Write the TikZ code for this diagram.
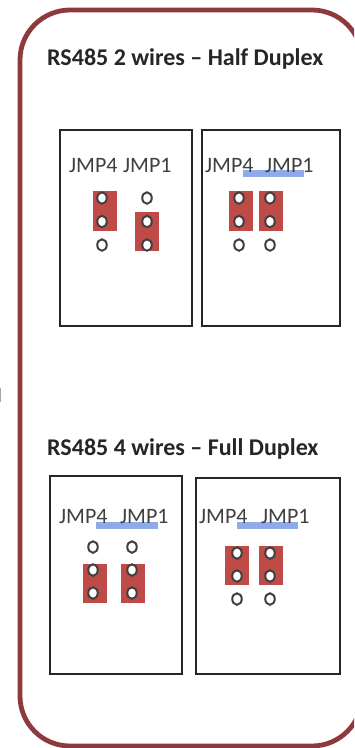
\documentclass[tikz,border=0pt]{standalone}
\usepackage{fontspec}
\setmainfont{Carlito}
\usetikzlibrary{shapes.geometric}
\definecolor{rim}{HTML}{8E3A3C}
\definecolor{jred}{HTML}{BE4B48}
\definecolor{jblue}{HTML}{8FAAEA}
\tikzset{
  x=1pt,y=-1pt,
  frame/.style={draw=black!85,line width=1.5pt,fill=white},
  outer/.style={draw=rim,line width=4.8pt,rounded corners=50pt},
  jumper/.style={fill=jred,draw=none},
  hole/.style={draw=black!75,fill=white,line width=2pt,ellipse,minimum width=9.5pt,minimum height=11.5pt,inner sep=0pt},
  lab/.style={font=\fontsize{22}{24}\selectfont,text=black!75,anchor=base west,inner sep=0pt},
  ttl/.style={font=\bfseries\fontsize{24}{26}\selectfont,text=black!85,anchor=base west,inner sep=0pt},
  bar/.style={fill=jblue,draw=none}
}
\newcommand{\holes}[4]{%
  \node[hole] (#1a) at (#2,#3) {};
  \node[hole] (#1b) at (#2,#3+#4) {};
  \node[hole] (#1c) at (#2,#3+2*#4) {};
}
\begin{document}
\begin{tikzpicture}
\useasboundingbox (0,0) rectangle (354,748);
\fill[white] (0,0) rectangle (354,748);
\clip (0,0) rectangle (354,748);
\draw[outer] (20,10) rectangle (362,746);
\draw[black!35,line width=2pt] (0,388) -- (0,402);

\node[ttl] (t1) at (47,65) {RS485 2 wires – Half Duplex};
\node[ttl] (t2) at (47,455) {RS485 4 wires – Full Duplex};

\draw[frame] (60,130) rectangle (192,326);
\draw[frame] (202,130) rectangle (340,326);
\draw[frame] (50,476) rectangle (182,674);
\draw[frame] (196,478) rectangle (340,674);

\fill[bar] (243,170) rectangle (304,177);
\fill[bar] (96,522) rectangle (158,529);
\fill[bar] (237,522) rectangle (298,529);

\node[lab] (a1) at (69,172) {JMP4};
\node[lab] (a2) at (123,172) {JMP1};
\node[lab] (b1) at (205,172) {JMP4};
\node[lab] (b2) at (265,172) {JMP1};
\node[lab] (c1) at (59,523) {JMP4};
\node[lab] (c2) at (120,523) {JMP1};
\node[lab] (d1) at (199,523) {JMP4};
\node[lab] (d2) at (261,523) {JMP1};

\fill[jumper] (93,191) rectangle (117,231);
\fill[jumper] (135,212) rectangle (159,251);
\fill[jumper] (229,191) rectangle (253,231);
\fill[jumper] (259,191) rectangle (283,231);
\fill[jumper] (83,564) rectangle (107,603);
\fill[jumper] (121,564) rectangle (145,603);
\fill[jumper] (225,546) rectangle (249,585);
\fill[jumper] (259,546) rectangle (283,585);

\holes{p}{102}{198}{23.5}
\holes{q}{147}{198}{23.5}
\holes{r}{239}{198}{23.5}
\holes{s}{270}{198}{23.5}
\holes{u}{93}{547}{23}
\holes{v}{132}{547}{23}
\holes{w}{237}{553}{23}
\holes{z}{270}{553}{23}
\end{tikzpicture}
\end{document}
